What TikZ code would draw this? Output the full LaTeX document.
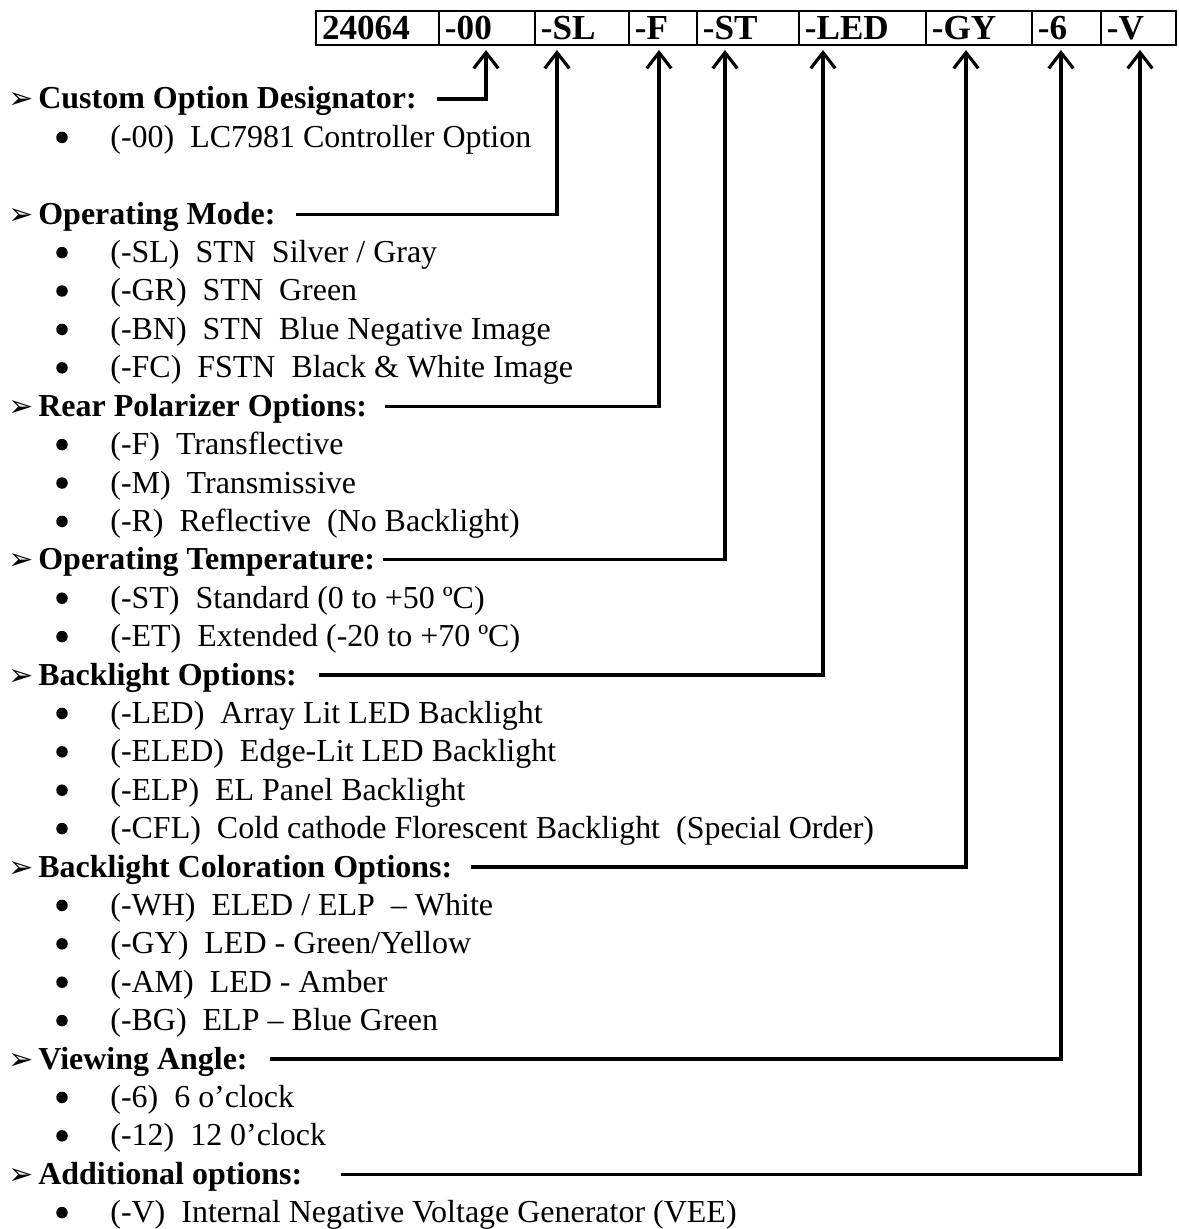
\documentclass[tikz,border=0pt]{standalone}
\usepackage{fontspec}
\setmainfont{Liberation Serif}
\newfontfamily\symfont{DejaVu Sans}
\usetikzlibrary{arrows.meta,positioning}
\newcommand{\bodysize}{\fontsize{18.2}{22}\selectfont}
\newcommand{\headmark}{\makebox[0.6cm][l]{\symfont\fontsize{17}{17}\selectfont ➢}}

\begin{document}
\begin{tikzpicture}[x=0.02cm, y=-0.02cm,
    cell/.style={rectangle, draw, line width=1.1pt, outer sep=0pt, inner xsep=0.12cm, inner ysep=0pt,
      minimum height=0.68cm, text width=#1, align=left, font=\fontsize{20}{22}\selectfont\bfseries},
    head/.style={anchor=base west, inner sep=0pt, font=\bodysize\bfseries},
    opt/.style={anchor=base west, inner sep=0pt, font=\bodysize},
    dot/.style={circle, fill, inner sep=0pt, minimum size=0.23cm},
    conn/.style={line width=1.8pt, line join=miter, -{Straight Barb[length=9pt,width=14pt]}}
  ]
    \useasboundingbox (0,0) rectangle (1178,1229);

    % Part number
    \node[cell=2.22cm, anchor=north west] (c0) at (316,11) {24064};
    \node[cell=1.68cm, right=0pt of c0] (c1) {-00};
    \node[cell=1.64cm, right=0pt of c1] (c2) {-SL};
    \node[cell=1.12cm, right=0pt of c2] (c3) {-F};
    \node[cell=1.80cm, right=0pt of c3] (c4) {-ST};
    \node[cell=2.30cm, right=0pt of c4] (c5) {-LED};
    \node[cell=1.88cm, right=0pt of c5] (c6) {-GY};
    \node[cell=1.14cm, right=0pt of c6] (c7) {-6};
    \node[cell=1.26cm, right=0pt of c7] (c8) {-V};

    % Arrow tips under the part number
    \coordinate (t1) at (486,50);
    \coordinate (t2) at (557,50);
    \coordinate (t3) at (659,50);
    \coordinate (t4) at (725,50);
    \coordinate (t5) at (823,50);
    \coordinate (t6) at (966,50);
    \coordinate (t7) at (1061,50);
    \coordinate (t8) at (1140,50);

    % Headings
    \node[head] (h1) at (8,109)    {\headmark Custom Option Designator:};
    \node[head] (h2) at (8,224.2)  {\headmark Operating Mode:};
    \node[head] (h3) at (8,416.2)  {\headmark Rear Polarizer Options:};
    \node[head] (h4) at (8,569.8)  {\headmark Operating Temperature:};
    \node[head] (h5) at (8,685)    {\headmark Backlight Options:};
    \node[head] (h6) at (8,877)    {\headmark Backlight Coloration Options:};
    \node[head] (h7) at (8,1069)   {\headmark Viewing Angle:};
    \node[head] (h8) at (8,1184.2) {\headmark Additional options:};

    % Options
    \node[opt] (o1)  at (110,147.4)  {(-00)~~LC7981 Controller Option};
    \node[opt] (o2)  at (110,262.6)  {(-SL)~~STN~~Silver / Gray};
    \node[opt] (o3)  at (110,301)    {(-GR)~~STN~~Green};
    \node[opt] (o4)  at (110,339.4)  {(-BN)~~STN~~Blue Negative Image};
    \node[opt] (o5)  at (110,377.8)  {(-FC)~~FSTN~~Black \& White Image};
    \node[opt] (o6)  at (110,454.6)  {(-F)~~Transflective};
    \node[opt] (o7)  at (110,493)    {(-M)~~Transmissive};
    \node[opt] (o8)  at (110,531.4)  {(-R)~~Reflective~~(No Backlight)};
    \node[opt] (o9)  at (110,608.2)  {(-ST)~~Standard (0 to +50 ºC)};
    \node[opt] (o10) at (110,646.6)  {(-ET)~~Extended (-20 to +70 ºC)};
    \node[opt] (o11) at (110,723.4)  {(-LED)~~Array Lit LED Backlight};
    \node[opt] (o12) at (110,761.8)  {(-ELED)~~Edge-Lit LED Backlight};
    \node[opt] (o13) at (110,800.2)  {(-ELP)~~EL Panel Backlight};
    \node[opt] (o14) at (110,838.6)  {(-CFL)~~Cold cathode Florescent Backlight~~(Special Order)};
    \node[opt] (o15) at (110,915.4)  {(-WH)~~ELED / ELP~~– White};
    \node[opt] (o16) at (110,953.8)  {(-GY)~~LED - Green/Yellow};
    \node[opt] (o17) at (110,992.2)  {(-AM)~~LED - Amber};
    \node[opt] (o18) at (110,1030.6) {(-BG)~~ELP – Blue Green};
    \node[opt] (o19) at (110,1107.4) {(-6)~~6 o’clock};
    \node[opt] (o20) at (110,1145.8) {(-12)~~12 0’clock};
    \node[opt] (o21) at (110,1222.6) {(-V)~~Internal Negative Voltage Generator (VEE)};

    % Bullets
    \foreach \i in {1,...,21}
      \node[dot] (b\i) at ([xshift=-0.96cm,yshift=0.2cm]o\i.base west) {};

    % Connectors
    \draw[conn] ([xshift=0.40cm,yshift=0.2cm]h1.base east) -| (t1);
    \draw[conn] ([xshift=0.40cm,yshift=0.2cm]h2.base east) -| (t2);
    \draw[conn] ([xshift=0.36cm,yshift=0.2cm]h3.base east) -| (t3);
    \draw[conn] ([xshift=0.16cm,yshift=0.2cm]h4.base east) -| (t4);
    \draw[conn] ([xshift=0.44cm,yshift=0.2cm]h5.base east) -| (t5);
    \draw[conn] ([xshift=0.36cm,yshift=0.2cm]h6.base east) -| (t6);
    \draw[conn] ([xshift=0.44cm,yshift=0.2cm]h7.base east) -| (t7);
    \draw[conn] ([xshift=0.76cm,yshift=0.2cm]h8.base east) -| (t8);

  \end{tikzpicture}
\end{document}
